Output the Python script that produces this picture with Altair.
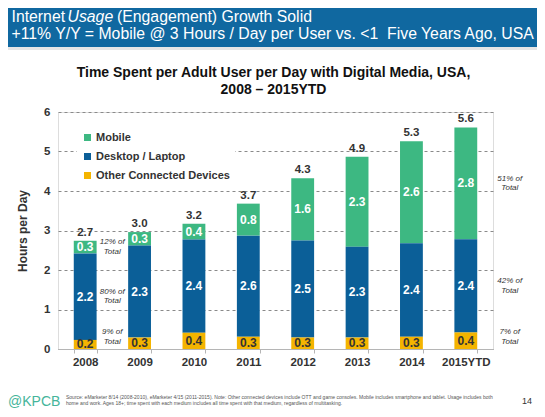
import altair as alt
import pandas as pd

# ---------------- data ----------------
years = ["2008", "2009", "2010", "2011", "2012", "2013", "2014", "2015YTD"]
series_names = ["Mobile", "Desktop / Laptop", "Other Connected Devices"]
mobile_hours = [0.32, 0.34, 0.40, 0.81, 1.57, 2.28, 2.58, 2.83]
desktop_hours = [2.19, 2.33, 2.36, 2.56, 2.46, 2.30, 2.37, 2.36]
other_hours = [0.23, 0.29, 0.41, 0.31, 0.29, 0.29, 0.31, 0.42]
share_first = ["12%", "80%", "9%"]   # 2008: mobile, desktop, other
share_last = ["51%", "42%", "7%"]    # 2015YTD: mobile, desktop, other
series_colors = ["#3DB882", "#0B5F98", "#F4B400"]

header_line1 = ["Internet", "Usage", "(Engagement) Growth Solid"]
header_line2 = "+11% Y/Y = Mobile @ 3 Hours / Day per User vs. <1 \u00a0Five Years Ago, USA"
chart_title = ["Time Spent per Adult User per Day with Digital Media, USA,", "2008 \u2013 2015YTD"]
source_lines = [
    "Source: eMarketer 8/14 (2008-2010), eMarketer 4/15 (2011-2015). Note: Other connected devices include OTT and game consoles. Mobile includes smartphone and tablet. Usage includes both",
    "home and work. Ages 18+; time spent with each medium includes all time spent with that medium, regardless of multitasking.",
]
page_number = "14"
brand = "@KPCB"
y_title = "Hours per Day"

# ---------------- tables built from the lists ----------------
rows = []
for i, yr in enumerate(years):
    for j, (s, vals) in enumerate(zip(series_names, [mobile_hours, desktop_hours, other_hours])):
        share = ""
        if i == 0:
            share = share_first[j]
        elif i == len(years) - 1:
            share = share_last[j]
        rows.append({"year": yr, "series": s, "hours": vals[i], "ord": 2 - j, "share": share})
df = pd.DataFrame(rows)
one = pd.DataFrame({"k": [0]})

F = "Liberation Sans"
DARK = "#333333"
HDR = "#1068A0"

xscale = alt.Scale(paddingInner=0.58, paddingOuter=0.29)
yscale = alt.Scale(domain=[0, 6], nice=False)

xaxis = alt.Axis(labelAngle=0, labelFont=F, labelFontSize=11.5, labelFontWeight="bold",
                 labelColor=DARK, domainColor="#b5b5b5", tickColor="#b5b5b5", tickSize=4,
                 tickBand="extent", labelPadding=3, grid=False)
yaxis = alt.Axis(values=[0, 1, 2, 3, 4, 5, 6], grid=True,
                 gridDash=[3, 3], gridColor="#8a8a8a", domain=False, ticks=False,
                 labelFont=F, labelFontSize=11.5, labelFontWeight="bold",
                 labelColor=DARK, labelPadding=8, titleFont=F, titleFontSize=12,
                 titleFontWeight="bold", titleColor=DARK, titlePadding=14)


def X():
    return alt.X("year:N", sort=years, scale=xscale, axis=xaxis, title=None)


def Y(field):
    return alt.Y(field, scale=yscale, axis=yaxis, title=y_title)


stacked = alt.Chart(df).transform_stack(
    stack="hours", groupby=["year"], sort=[alt.SortField("ord", order="ascending")], as_=["y0", "y1"]
).transform_calculate(mid="(datum.y0 + datum.y1) / 2")

bars = stacked.mark_bar().encode(
    x=X(),
    y=Y("y1:Q"),
    y2="y0:Q",
    color=alt.Color("series:N", scale=alt.Scale(domain=series_names, range=series_colors),
                    legend=alt.Legend(title=None, orient="none", legendX=19, legendY=15,
                                      fillColor="white", padding=5, symbolType="square",
                                      symbolSize=49, symbolStrokeWidth=0, labelFont=F,
                                      labelFontSize=11, labelFontWeight="bold",
                                      labelColor=DARK, labelOffset=3, rowPadding=7)),
)

seg_labels = stacked.mark_text(font=F, fontSize=12, fontWeight="bold").encode(
    x=X(),
    y=Y("mid:Q"),
    text=alt.Text("hours:Q", format=".1f"),
    color=alt.condition("datum.series == 'Other Connected Devices'", alt.value(DARK), alt.value("white")),
)

totals = alt.Chart(df).transform_aggregate(total="sum(hours)", groupby=["year"]).mark_text(
    font=F, fontSize=11.5, fontWeight="bold", color=DARK, dy=-8
).encode(
    x=X(),
    y=Y("total:Q"),
    text=alt.Text("total:Q", format=".1f"),
)

ann = stacked.transform_filter("datum.share != ''").transform_calculate(
    ay="max(datum.mid, 0.3)", line1="datum.share + ' of'"
)


def ann_layer(year, dx, dy, field):
    return ann.transform_filter(f"datum.year == '{year}'").mark_text(
        font=F, fontSize=8, fontStyle="italic", color=DARK, dx=dx, dy=dy
    ).encode(x=X(), y=Y("ay:Q"), text=field)


ann_layers = [
    ann_layer(years[0], 27, -4.7, "line1:N"),
    ann_layer(years[0], 27, 4.7, alt.value("Total")),
    ann_layer(years[-1], 44, -4.7, "line1:N"),
    ann_layer(years[-1], 44, 4.7, alt.value("Total")),
]


def txt(text, x, y, size, weight="normal", style="normal", color=DARK, align="left"):
    return alt.Chart(one).mark_text(
        font=F, fontSize=size, fontWeight=weight, fontStyle=style, color=color,
        align=align, baseline="alphabetic"
    ).encode(x=alt.value(x), y=alt.value(y), text=alt.value(text))


header_band = alt.Chart(one).mark_rect(color=HDR).encode(
    x=alt.value(-50), x2=alt.value(479), y=alt.value(-104), y2=alt.value(-65))
header_shadow = alt.Chart(one).mark_rect(color="#e6e6e6").encode(
    x=alt.value(-50), x2=alt.value(479), y=alt.value(-65), y2=alt.value(-62))

HS = 15.8
header = [
    txt(header_line1[0], -46.5, -90, HS, color="white"),
    txt(header_line1[1], 9.5, -90, HS, style="italic", color="white"),
    txt(header_line1[2], 59, -90, HS, color="white"),
    txt(header_line2, -46.5, -73.5, HS, color="white"),
]
titles = [
    txt(chart_title[0], 215.5, -35, 14, weight="bold", color="#111111", align="center"),
    txt(chart_title[1], 215.5, -18, 14, weight="bold", color="#111111", align="center"),
]
footer = [
    txt(brand, -50, 294, 14, color="#45B59A"),
    txt(source_lines[0], 8, 287, 5, color="#555555"),
    txt(source_lines[1], 8, 293, 5, color="#555555"),
    txt(page_number, 469, 292, 9, color=DARK, align="center"),
]

chart = alt.layer(
    header_band, header_shadow, *header, *titles,
    bars, seg_labels, totals, *ann_layers, *footer,
).properties(
    width=435, height=237,
    padding={"left": 50, "top": 104, "right": 44, "bottom": 60},
    autosize=alt.AutoSizeParams(type="none"),
).configure_view(stroke=None).configure(background="white")

chart.save("out.html", embed_options={"renderer": "svg", "actions": False})
